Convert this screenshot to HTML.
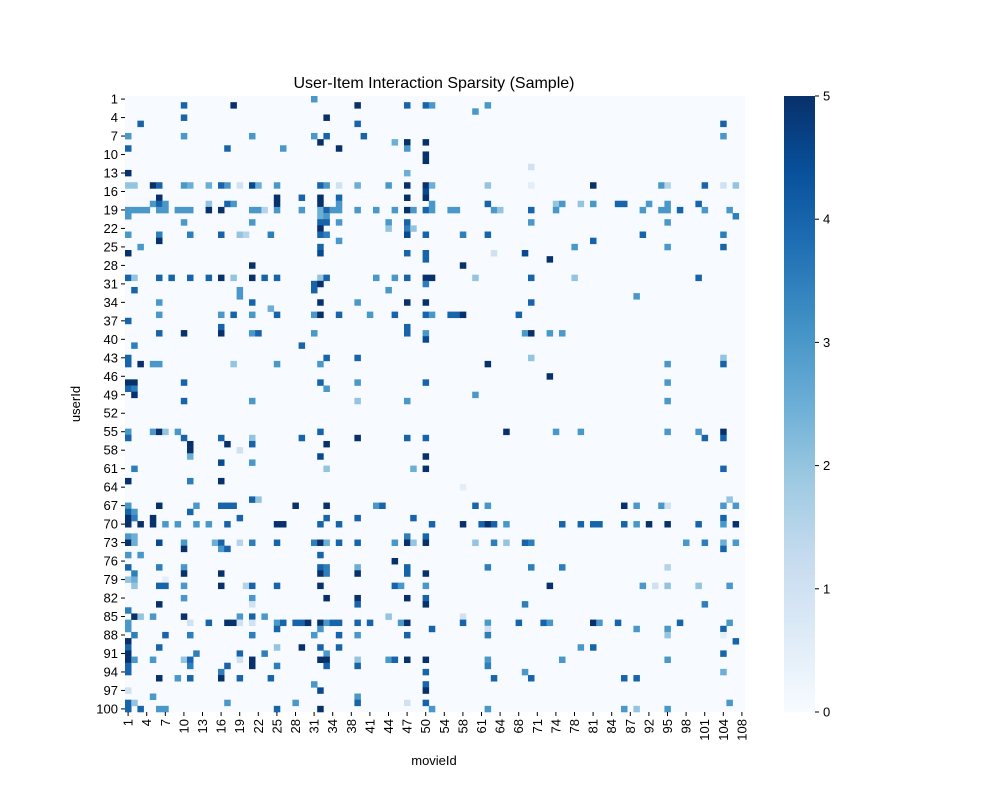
<!DOCTYPE html>
<html><head><meta charset="utf-8"><style>
html,body{margin:0;padding:0;background:#fff;}
svg{display:block;font-family:"Liberation Sans","DejaVu Sans",sans-serif;}
</style></head><body>
<svg id="chart" width="1000" height="800" viewBox="0 0 1000 800">
<defs><linearGradient id="cbgrad" x1="0" y1="1" x2="0" y2="0">
<stop offset="0" stop-color="#f7fbff"/><stop offset="0.125" stop-color="#deebf7"/><stop offset="0.25" stop-color="#c6dbef"/><stop offset="0.375" stop-color="#9ecae1"/><stop offset="0.5" stop-color="#6baed6"/><stop offset="0.625" stop-color="#4292c6"/><stop offset="0.75" stop-color="#2171b5"/><stop offset="0.875" stop-color="#08519c"/><stop offset="1" stop-color="#08306b"/></linearGradient></defs>
<text x="434" y="88" text-anchor="middle" font-size="16">User-Item Interaction Sparsity (Sample)</text>
<g id="plot"></g>
<g id="xticks"></g>
<g id="yticks"></g>
<text x="434" y="765" text-anchor="middle" font-size="13">movieId</text>
<text x="80" y="404" text-anchor="middle" font-size="13" transform="rotate(-90 80 404)">userId</text>
<rect x="784" y="96" width="31" height="616" fill="url(#cbgrad)"/>
<g id="cbticks"></g>
</svg>
<script>
const movieTickLabels = [1,4,7,10,13,16,19,22,25,28,31,34,38,41,44,47,50,54,58,61,64,68,71,74,78,81,84,87,92,95,98,101,104,108];
const userTickLabels = [1,4,7,10,13,16,19,22,25,28,31,34,37,40,43,46,49,52,55,58,61,64,67,70,73,76,79,82,85,88,91,94,97,100];
const colorTicks = [0,1,2,3,4,5];
const nUsers = 100, nMovies = 100, maxRating = 5;
// [userRow, movieColumn, rating]
const ratings = [
[1,31,3],[2,10,4],[2,18,5],[2,38,5],[2,46,4],[2,49,4],[2,50,3],[2,59,3],[3,57,3],[4,10,4],[4,33,5],
[5,3,4],[5,38,4],[5,97,4],[7,1,3],[7,10,3],[7,21,3],[7,31,3],[7,33,4],[7,39,4],[7,97,3],
[8,32,5],[8,44,2.5],[8,46,5],[8,49,5],[9,1,4],[9,17,4],[9,26,3],[9,35,5],[9,46,3],[10,49,5],[11,49,5],[12,66,1],[13,1,5],[13,46,2.5],
[15,1,2],[15,2,2],[15,5,5],[15,6,4],[15,10,3],[15,11,2.5],[15,14,2.5],[15,16,4],[15,17,3],[15,19,1],[15,21,4.5],[15,22,2.5],[15,25,3],[15,32,4],[15,33,3],[15,35,1],[15,38,2.5],[15,43,3],[15,46,5],[15,49,5],[15,50,2.5],[15,59,2],[15,66,0.5],[15,76,5],[15,87,3],[15,88,1.5],[15,94,4],[15,97,1],[15,99,2],
[16,49,4.5],[17,6,5],[17,25,5],[17,29,4],[17,32,5],[17,35,4],[17,46,5],[17,49,5],
[18,5,3],[18,6,4],[18,7,3],[18,14,2],[18,17,4],[18,18,3],[18,25,5],[18,32,5],[18,35,3],[18,50,3],[18,59,4],[18,70,2],[18,71,3],[18,74,2],[18,76,3],[18,80,4],[18,81,4],[18,85,3],[18,88,3],[18,93,4],
[19,1,3],[19,2,3],[19,3,3],[19,4,3],[19,6,3],[19,7,3],[19,9,3],[19,10,3],[19,11,3],[19,14,5],[19,16,5],[19,21,3],[19,22,3],[19,23,1.5],[19,25,3],[19,29,3],[19,32,2.5],[19,33,4],[19,34,3],[19,35,3],[19,38,3],[19,41,3],[19,44,3],[19,46,5],[19,47,3],[19,49,4],[19,50,3],[19,53,3],[19,54,3],[19,60,3],[19,61,2],[19,66,4],[19,70,3],[19,84,3],[19,87,3],[19,88,3],[19,90,4],[19,94,3],[19,98,3],
[20,1,3],[20,32,2.5],[20,33,3],[20,99,3.5],[21,10,3],[21,21,3],[21,32,4],[21,33,4],[21,35,3],[21,43,3],[21,46,4],[21,66,3],[21,88,3],
[22,32,5],[22,43,2],[22,46,3.5],[22,47,2],
[23,1,3],[23,6,3.5],[23,11,3.5],[23,16,4],[23,19,2],[23,20,1.5],[23,24,3.5],[23,32,4],[23,33,3.5],[23,46,4.5],[23,49,4],[23,55,3.5],[23,59,4],[23,84,4],[23,97,3.5],
[24,6,5],[24,35,3],[24,76,4],[25,3,3],[25,32,4],[25,73,3],[25,88,3],[25,97,4],[26,1,5],[26,32,4.5],[26,46,4],[26,49,4],[26,60,1],[26,65,4.5],[27,49,4],[27,69,5],[28,21,5],[28,55,5],
[30,1,4],[30,2,2],[30,6,4],[30,8,4],[30,11,4],[30,14,4],[30,16,5],[30,18,2],[30,21,5],[30,23,4],[30,25,4],[30,32,2],[30,33,4],[30,41,3],[30,44,3],[30,46,4],[30,49,5],[30,50,5],[30,57,2],[30,66,4],[30,73,2],[30,93,4],
[31,31,4],[31,32,5],[31,49,3.5],[32,2,4],[32,19,3],[32,31,4],[32,43,3],[33,19,3],[33,83,3],[34,6,3],[34,21,4],[34,32,5],[34,38,3],[34,46,5],[34,49,5],[34,66,4],
[35,24,2.5],[36,6,3],[36,16,3],[36,18,4],[36,21,3],[36,25,4],[36,31,3],[36,32,5],[36,35,4],[36,40,3],[36,44,4],[36,49,4],[36,50,3],[36,53,4],[36,54,4],[36,55,5],[36,64,4],
[37,1,4],[38,16,4],[38,46,4],[39,6,4],[39,10,5],[39,16,5],[39,46,4],[39,21,3],[39,22,4],[39,31,3],[39,49,3],[39,65,3],[39,66,5],[39,69,3],[39,71,3],
[40,49,4.5],[41,2,3.5],[41,29,4],[43,1,4],[43,33,4],[43,38,4],[43,66,2],[43,97,2],[44,1,4],[44,3,5],[44,5,3],[44,6,3],[44,18,2],[44,25,3],[44,32,3],[44,59,5],[44,88,3],[44,97,4],
[46,69,5],[47,1,5],[47,2,5],[47,10,4],[47,32,4],[47,38,3],[47,49,4],[47,88,3],[48,1,4],[48,2,3.5],[48,33,3],[49,2,5],[49,57,3],[50,10,4],[50,21,3],[50,38,2],[50,46,3],[50,88,3],
[55,1,3],[55,5,3],[55,6,5],[55,7,2],[55,9,3],[55,32,4],[55,62,5],[55,70,3],[55,74,3],[55,88,3],[55,93,3],[55,97,5],
[56,1,4],[56,10,4],[56,16,4],[56,21,2],[56,29,4],[56,38,5],[56,46,4],[56,49,4],[56,94,4],[56,97,4],
[57,11,5],[57,17,5],[57,21,4],[57,33,5],[58,11,5],[58,19,1],[59,11,2.5],[59,32,4.5],[59,49,5],[60,16,4.5],[60,21,3],[61,2,3.5],[61,33,2],[61,47,2.5],[61,49,5],[61,97,4],
[63,1,5],[63,11,3.5],[63,16,5],[64,55,0.5],[66,21,4],[66,22,2],[66,98,2],
[67,1,3],[67,6,5],[67,12,3],[67,16,4],[67,17,4],[67,18,4],[67,28,5],[67,33,5],[67,41,3],[67,42,4],[67,57,4],[67,59,3],[67,81,5],[67,83,3],[67,87,3],[67,88,1],[67,97,3],[67,99,3],
[68,1,4],[68,2,3],[68,11,4],[69,1,5],[69,2,3.5],[69,5,5],[69,19,4],[69,33,4],[69,38,4],[69,47,4],[69,97,4],
[70,1,5],[70,3,5],[70,5,5],[70,7,3],[70,9,3],[70,12,3],[70,14,3],[70,17,4],[70,25,5],[70,26,5],[70,32,4],[70,35,4],[70,50,4],[70,55,5],[70,58,4],[70,59,5],[70,60,4],[70,62,3],[70,71,4],[70,74,4],[70,76,4],[70,77,4],[70,81,4],[70,83,3],[70,85,5],[70,88,5],[70,93,4],[70,97,3],[70,99,5],
[72,1,3],[72,2,2.5],[72,46,3.5],[72,49,4],
[73,1,5],[73,2,2.5],[73,6,4.5],[73,10,3],[73,15,2.5],[73,16,4],[73,19,1.5],[73,21,3.5],[73,25,4],[73,31,3.5],[73,32,5],[73,33,2.5],[73,35,4],[73,38,4],[73,44,3],[73,46,5],[73,47,2],[73,49,5],[73,57,2],[73,60,3.5],[73,62,2],[73,65,4],[73,66,3.5],[73,91,3],[73,94,3.5],[73,97,2.5],[73,99,3],
[74,10,5],[74,16,3],[74,17,4],[74,97,4],[75,1,3],[75,3,3],[75,32,4],[76,44,5],
[77,1,4],[77,6,3.5],[77,10,3],[77,32,4],[77,33,3.5],[77,38,2.5],[77,46,4],[77,59,3.5],[77,66,3.5],[77,71,3.5],[77,88,1.5],
[78,2,3.5],[78,10,5],[78,16,5],[78,32,5],[78,33,3.5],[78,38,5],[78,46,4],[78,49,5],[79,1,2],[79,2,2.5],[79,7,0.5],
[80,2,2],[80,6,4],[80,7,4],[80,10,3],[80,16,5],[80,20,1.5],[80,21,4],[80,25,4],[80,32,5],[80,44,4],[80,45,3],[80,49,3],[80,69,5],[80,84,3],[80,86,1],[80,88,2],[80,93,2],[80,98,3],
[82,10,3],[82,21,3],[82,33,5],[82,38,5],[82,46,5],[82,49,4],[83,6,5],[83,21,1],[83,38,4],[83,49,5],[83,65,3.5],[83,94,3.5],[84,1,3.5],
[85,2,5],[85,3,2],[85,5,3],[85,10,5],[85,19,3],[85,21,4],[85,23,3],[85,43,2],[85,55,1],
[86,1,3],[86,11,1],[86,14,4],[86,17,5],[86,18,5],[86,19,1],[86,21,1],[86,25,3],[86,26,4],[86,28,4],[86,29,4],[86,30,5],[86,32,5],[86,33,3],[86,34,4],[86,35,4],[86,38,4],[86,40,4],[86,45,3],[86,46,5],[86,55,4],[86,59,3],[86,64,4],[86,68,4],[86,69,3],[86,76,5],[86,77,3],[86,80,4],[86,90,4],[86,98,3],
[87,1,3],[87,25,4],[87,32,3],[87,50,4],[87,59,1],[87,83,3],[87,88,3],[87,97,4],
[88,2,3.5],[88,7,4],[88,11,3.5],[88,21,3.5],[88,31,3],[88,35,4],[88,38,3],[88,46,4],[88,59,3.5],[88,88,2],[88,97,0.5],
[89,1,5],[89,99,4],[90,1,4],[90,6,4],[90,25,2],[90,29,5],[90,32,4],[90,35,4],[90,74,3],[90,76,4],
[91,1,5],[91,12,3.5],[91,19,4],[91,23,3.5],[91,33,3],[91,97,4],
[92,1,5],[92,2,3],[92,5,3],[92,10,2],[92,11,4],[92,19,1],[92,21,5],[92,32,5],[92,33,5],[92,38,2],[92,43,3],[92,44,4],[92,46,5],[92,49,5],[92,59,3],[92,71,3],[92,88,3],
[93,1,4],[93,11,3.5],[93,17,4],[93,21,5],[93,25,3.5],[93,33,4],[93,38,4],[93,59,3.5],[94,1,4],[94,16,3.5],[94,49,4],[94,65,3],[94,97,2.5],
[95,6,5],[95,9,3],[95,11,4],[95,16,5],[95,19,4],[95,24,4],[95,60,4],[95,66,4],[95,81,4],[95,83,4],
[96,31,3],[96,49,4],[97,1,1],[97,32,4.5],[97,49,5],[98,5,3],[98,38,3],
[99,1,4],[99,2,2],[99,17,3],[99,28,3],[99,38,4],[99,46,1],[99,49,4],[99,98,3],
[100,1,4],[100,3,4],[100,6,3],[100,7,3],[100,25,4],[100,32,5],[100,50,3],[100,59,3],[100,81,3],[100,83,2],[100,88,3]
];

const NS = 'http://www.w3.org/2000/svg';
const plotX0 = 125, plotX1 = 745, plotY0 = 96, plotY1 = 712;
const cellW = (plotX1 - plotX0) / nMovies, cellH = (plotY1 - plotY0) / nUsers;
function xScale(col){ return plotX0 + (col - 1) * cellW; }
function yScale(row){ return plotY0 + (row - 1) * cellH; }
const stops = ['#f7fbff','#deebf7','#c6dbef','#9ecae1','#6baed6','#4292c6','#2171b5','#08519c','#08306b'];
function hex(h){ return [1,3,5].map(i => parseInt(h.substr(i,2),16)); }
function colorFor(v){
  const t = Math.max(0, Math.min(1, v / maxRating)) * (stops.length - 1);
  const i = Math.min(stops.length - 2, Math.floor(t)), f = t - i;
  const a = hex(stops[i]), b = hex(stops[i+1]);
  return 'rgb(' + a.map((c,k) => Math.round(c + (b[k]-c)*f)).join(',') + ')';
}
function mk(tag, attrs, parent){ const e = document.createElementNS(NS, tag); for (const k in attrs) e.setAttribute(k, attrs[k]); parent.appendChild(e); return e; }

const plot = document.getElementById('plot');
const bg = mk('rect', {x: plotX0, y: plotY0, width: plotX1 - plotX0, height: plotY1 - plotY0, fill: colorFor(0)}, plot);


ratings.forEach(function(d){
  const r = mk('rect', {x: xScale(d[1]).toFixed(2), y: yScale(d[0]).toFixed(2), width: (cellW + 0.3).toFixed(2), height: (cellH + 0.3).toFixed(2), fill: colorFor(d[2])}, plot);
  
  
});

const xg = document.getElementById('xticks');
movieTickLabels.forEach(function(lab, i){
  const col = 1 + i * 3;
  const cx = xScale(col) + cellW / 2;
  const t = mk('line', {x1: cx, x2: cx, y1: plotY1, y2: plotY1 + 4, stroke: '#000', 'stroke-width': 1}, xg);
  
  
  const tx = mk('text', {x: cx + 4.5, y: plotY1 + 7, 'font-size': 13, 'text-anchor': 'end', transform: 'rotate(-90 ' + (cx + 4.5) + ' ' + (plotY1 + 7) + ')'}, xg);
  tx.textContent = lab;
  
  
});
const yg = document.getElementById('yticks');
userTickLabels.forEach(function(lab){
  const cy = yScale(lab) + cellH / 2;
  const t = mk('line', {x1: plotX0 - 4, x2: plotX0, y1: cy, y2: cy, stroke: '#000', 'stroke-width': 1}, yg);
  
  
  const tx = mk('text', {x: plotX0 - 7, y: cy + 4.5, 'font-size': 13, 'text-anchor': 'end'}, yg);
  tx.textContent = lab;
  
  
});
const cg = document.getElementById('cbticks');
colorTicks.forEach(function(v){
  const cy = plotY1 - (v / maxRating) * (plotY1 - plotY0);
  const t = mk('line', {x1: 815, x2: 819, y1: cy, y2: cy, stroke: '#000', 'stroke-width': 1}, cg);
  
  
  const tx = mk('text', {x: 823, y: cy + 4.5, 'font-size': 13}, cg);
  tx.textContent = v;
  
  
});
</script>
</body></html>
